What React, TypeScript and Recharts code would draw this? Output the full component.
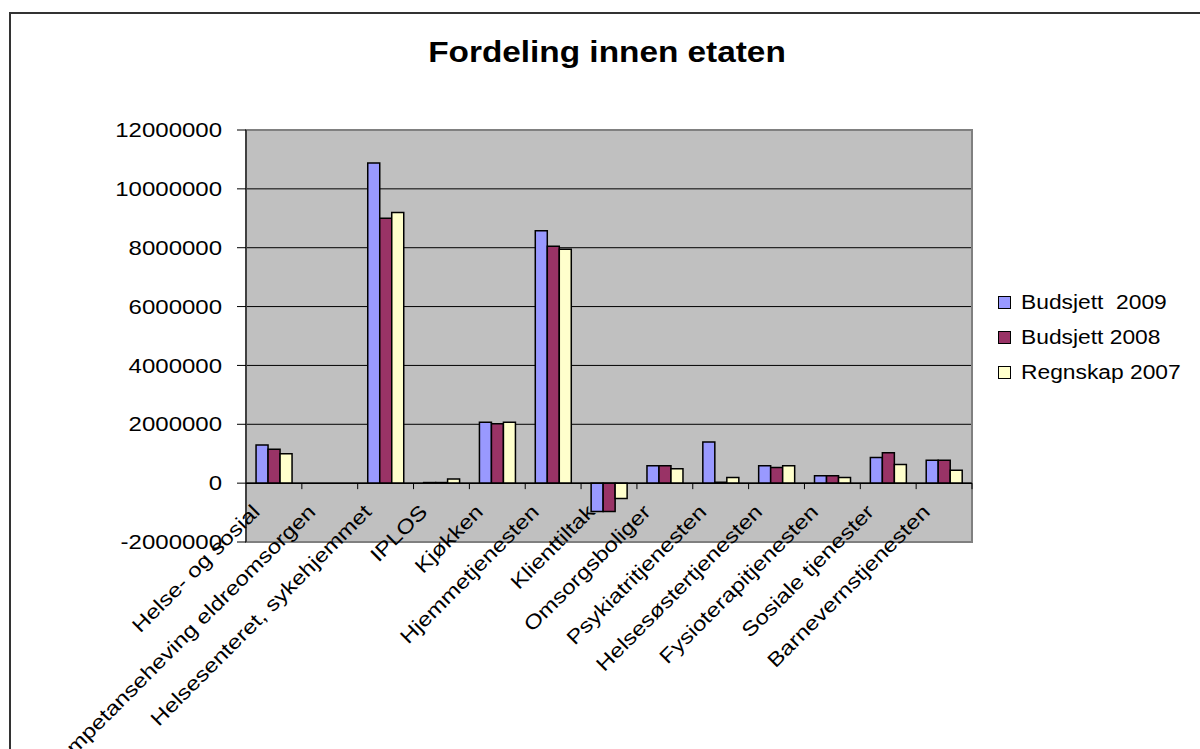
import { BarChart, Bar, XAxis, YAxis, CartesianGrid, ReferenceLine, ReferenceArea } from "recharts";

const categories = [
    "Helse- og sosial",
    "Kompetanseheving eldreomsorgen",
    "Helsesenteret, sykehjemmet",
    "IPLOS",
    "Kjøkken",
    "Hjemmetjenesten",
    "Klienttiltak",
    "Omsorgsboliger",
    "Psykiatritjenesten",
    "Helsesøstertjenesten",
    "Fysioterapitjenesten",
    "Sosiale tjenester",
    "Barnevernstjenesten",
];

const budsjett2009 = [1300000, 0, 10880000, 20000, 2070000, 8580000, -960000, 590000, 1400000, 590000, 250000, 870000, 780000];
const budsjett2008 = [1150000, 0, 9000000, 20000, 2020000, 8050000, -960000, 590000, 30000, 530000, 250000, 1030000, 780000];
const regnskap2007 = [1000000, 0, 9200000, 140000, 2070000, 7950000, -520000, 490000, 190000, 590000, 190000, 630000, 440000];

const yTicks = [-2000000, 0, 2000000, 4000000, 6000000, 8000000, 10000000, 12000000];

const series = [
    { key: "b2009", name: "Budsjett  2009", color: "#9999FF" },
    { key: "b2008", name: "Budsjett 2008", color: "#993366" },
    { key: "r2007", name: "Regnskap 2007", color: "#FFFFCC" },
];

const data = categories.map((name, i) => ({
    name,
    b2009: budsjett2009[i],
    b2008: budsjett2008[i],
    r2007: regnskap2007[i],
}));

const W = 1200;
const H = 749;
const margin = { top: 130, right: 228, bottom: 0, left: 0 };
const yAxisWidth = 246;
const xAxisHeight = 207;
const plotW = W - yAxisWidth - margin.right;
const plotH = H - margin.top - xAxisHeight;
const band = plotW / categories.length;
const zeroShift = plotH * 2000000 / 14000000;

const FONT = "Arial, 'Liberation Sans', sans-serif";
// the source picture was stretched sideways, text looks wider than normal Arial
const STRETCH = 1.2;

// category labels sit on the zero line, like Excel does, not at the bottom of the plot
function CategoryTick(props: any) {
    const { x, y, payload } = props;
    const zy = y - zeroShift;
    const lx = x - 13;
    const ly = zy + 30;
    return (
        <g>
            <line x1={x + band / 2} y1={zy} x2={x + band / 2} y2={zy + 6} stroke="#000" />
            <text
                x={0}
                y={0}
                textAnchor="end"
                transform={`translate(${lx}, ${ly}) rotate(-45) scale(${STRETCH}, 1)`}
                fontFamily={FONT}
                fontSize={20}
                fill="#000"
            >
                {payload.value}
            </text>
        </g>
    );
}

function ValueTick(props: any) {
    const { x, y, payload } = props;
    return (
        <text
            x={0}
            y={0}
            dy="0.355em"
            textAnchor="end"
            transform={`translate(${x}, ${y}) scale(${STRETCH}, 1)`}
            fontFamily={FONT}
            fontSize={20}
            fill="#000"
        >
            {String(payload.value)}
        </text>
    );
}

export default function App() {
    return (
        <div style={{ position: "fixed", left: 0, top: 0, width: W, height: H, overflow: "hidden", background: "#fff" }}>
            <div style={{ position: "absolute", left: 9, top: 12, width: 1300, height: 900, border: "2px solid #333" }} />
            <div
                style={{
                    position: "absolute",
                    left: 0,
                    width: 1214,
                    top: 35,
                    textAlign: "center",
                    fontFamily: FONT,
                    fontWeight: "bold",
                    fontSize: 29,
                    lineHeight: "34px",
                    transform: "scaleX(1.15)",
                    transformOrigin: "607px 0",
                }}
            >
                Fordeling innen etaten
            </div>
            <div style={{ position: "absolute", left: 0, top: 0 }}>
                <BarChart width={W} height={H} data={data} margin={margin} barCategoryGap="18%" barGap={0}>
                    <CartesianGrid vertical={false} stroke="#000" fill="#C0C0C0" fillOpacity={1} />
                    <XAxis
                        dataKey="name"
                        height={xAxisHeight}
                        interval={0}
                        axisLine={false}
                        tickLine={false}
                        tickSize={0}
                        tickMargin={0}
                        tick={<CategoryTick />}
                    />
                    <YAxis
                        width={yAxisWidth}
                        domain={[-2000000, 12000000]}
                        ticks={yTicks}
                        interval={0}
                        allowDataOverflow
                        axisLine={{ stroke: "#000" }}
                        tickLine={{ stroke: "#000" }}
                        tickSize={9}
                        tickMargin={15}
                        tick={<ValueTick />}
                    />
                    <ReferenceArea y1={-2000000} y2={12000000} fill="none" stroke="#808080" strokeWidth={2} ifOverflow="visible" />
                    {series.map((s) => (
                        <Bar key={s.key} dataKey={s.key} name={s.name} fill={s.color} stroke="#000" strokeWidth={1.5} isAnimationActive={false} />
                    ))}
                    <ReferenceLine y={0} stroke="#000" strokeWidth={1.5} />
                </BarChart>
            </div>
            <div style={{ position: "absolute", left: 998, top: 285, fontFamily: FONT, fontSize: 20 }}>
                {series.map((s) => (
                    <div key={s.key} style={{ display: "flex", alignItems: "center", height: 35, whiteSpace: "pre" }}>
                        <span style={{ display: "inline-block", width: 11, height: 11, background: s.color, border: "1.5px solid #000", marginRight: 10 }} />
                        <span style={{ display: "inline-block", transform: "scaleX(1.14)", transformOrigin: "0 50%" }}>{s.name}</span>
                    </div>
                ))}
            </div>
        </div>
    );
}
